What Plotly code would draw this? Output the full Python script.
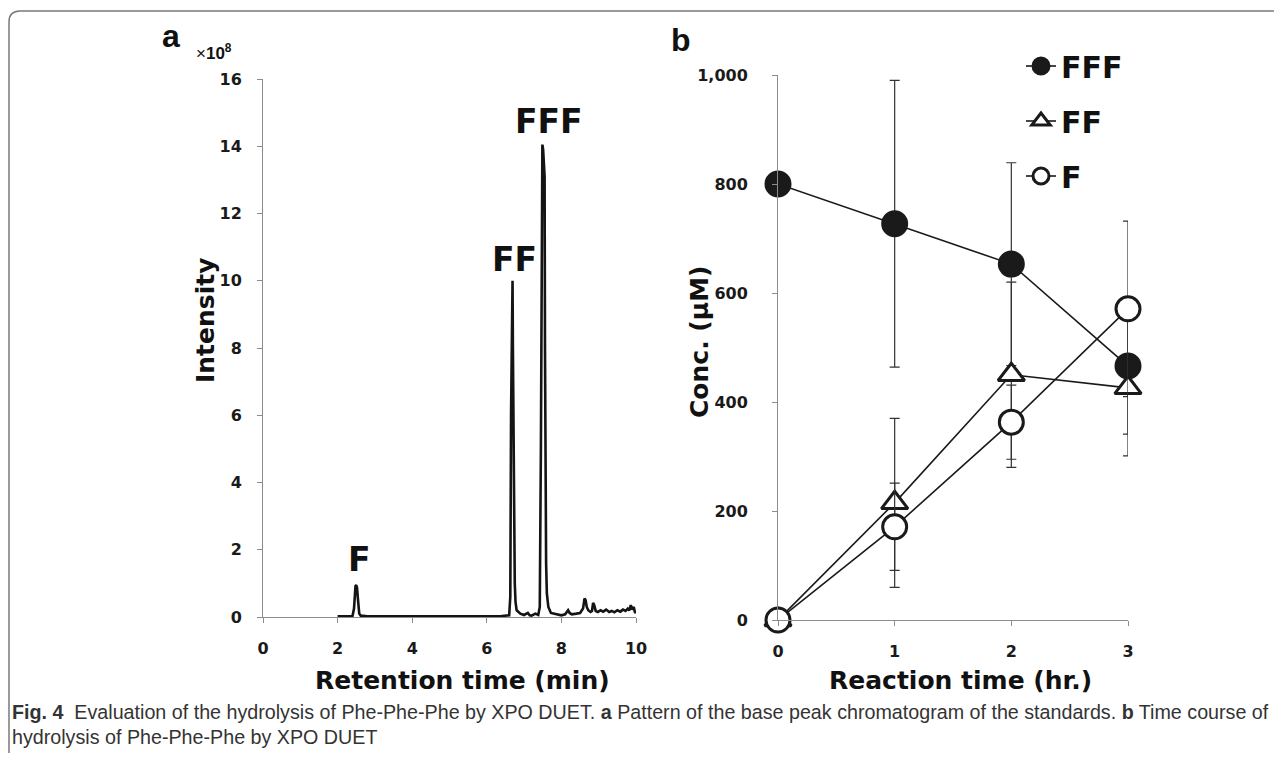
import plotly.graph_objects as go

# page is 1282x761 with an 8px body margin, so the figure itself is 1266x745
PAGE_W, PAGE_H = 1282, 761
OFF = 8
W, H = PAGE_W - 2 * OFF, PAGE_H - 2 * OFF

# ---------------- Panel a: base peak chromatogram ----------------
ret_time = [2.00, 2.20, 2.40, 2.44, 2.46, 2.48, 2.50, 2.52, 2.54, 2.56, 2.58, 2.62, 2.80,
            3.50, 4.50, 5.50, 6.40, 6.60, 6.63, 6.65, 6.67, 6.69, 6.70, 6.71, 6.72, 6.73,
            6.75, 6.77, 6.80, 6.90, 7.00, 7.10, 7.15, 7.20, 7.30, 7.38, 7.42, 7.45, 7.47,
            7.49, 7.51, 7.53, 7.55, 7.56, 7.57, 7.59, 7.61, 7.65, 7.72, 7.85, 8.00, 8.10,
            8.18, 8.22, 8.28, 8.40, 8.50, 8.58, 8.62, 8.65, 8.68, 8.72, 8.78, 8.82, 8.85,
            8.88, 8.92, 8.98, 9.05, 9.12, 9.20, 9.28, 9.35, 9.42, 9.50, 9.58, 9.65, 9.72,
            9.78, 9.82, 9.86, 9.90, 9.94, 9.97, 10.00]
intensity = [0.02, 0.02, 0.03, 0.25, 0.70, 0.92, 0.95, 0.88, 0.60, 0.30, 0.10, 0.04, 0.02,
             0.02, 0.02, 0.02, 0.03, 0.05, 0.60, 6.00, 9.95, 10.00, 8.00, 6.00, 3.80, 1.40,
             1.00, 0.45, 0.20, 0.10, 0.06, 0.12, 0.05, 0.04, 0.10, 0.06, 0.30, 5.00, 13.80,
             14.05, 13.90, 13.30, 13.10, 8.00, 4.60, 1.60, 0.70, 0.30, 0.12, 0.08, 0.05, 0.08,
             0.20, 0.12, 0.08, 0.10, 0.12, 0.25, 0.55, 0.50, 0.30, 0.20, 0.15, 0.18, 0.42,
             0.35, 0.18, 0.15, 0.20, 0.16, 0.22, 0.15, 0.18, 0.14, 0.20, 0.16, 0.22, 0.18,
             0.25, 0.20, 0.35, 0.22, 0.30, 0.15, 0.12]
peak_labels = ["F", "FF", "FFF"]
peak_x = [2.6, 6.73, 7.67]
peak_y = [1.70, 10.62, 14.75]

# ---------------- Panel b: time course ----------------
reaction_time = [0, 1, 2, 3]
conc_FFF = [800, 727, 653, 466]
err_FFF = [0, 263, 186, 125]
conc_FF = [0, 215, 450, 426]
err_FF = [0, 155, 170, 125]
conc_F = [0, 171, 363, 571]
err_F = [0, 80, 68, 161]


def px(x):
    """screen pixel -> paper x"""
    return (x - OFF) / W


def py(y):
    """screen pixel -> paper y"""
    return 1 - (y - OFF) / H


BOLD = "DejaVu Sans"
fig = go.Figure()

fig.add_trace(go.Scatter(
    x=ret_time, y=intensity, mode="lines",
    line=dict(color="#141414", width=2.6),
    xaxis="x", yaxis="y", showlegend=False, hoverinfo="skip"))

for name, vals, errs, sym, fill in [
        ("FFF", conc_FFF, err_FFF, "circle", "#1a1a1a"),
        ("FF", conc_FF, err_FF, "triangle-up", "white"),
        ("F", conc_F, err_F, "circle", "white")]:
    fig.add_trace(go.Scatter(
        x=reaction_time, y=vals, mode="lines+markers", name=name,
        legendgroup=name,
        line=dict(color="#1a1a1a", width=1.6),
        marker=dict(symbol=sym, size=24 if sym == "circle" else 23, color=fill,
                    line=dict(color="#1a1a1a", width=3)),
        error_y=dict(type="data", array=errs, visible=True, color="#333333",
                     thickness=1.2, width=5),
        cliponaxis=False,
        xaxis="x2", yaxis="y2"))

axis_common = dict(showgrid=False, zeroline=False, showline=True, linecolor="#8c8c8c",
                   linewidth=1, ticks="outside", ticklen=5, tickcolor="#8c8c8c",
                   automargin=False,
                   tickfont=dict(family=BOLD, size=16, color="#1a1a1a", weight="bold"))

fig.update_layout(
    width=W, height=H, margin=dict(l=0, r=0, t=0, b=0, pad=0, autoexpand=False),
    paper_bgcolor="white", plot_bgcolor="white",
    xaxis=dict(domain=[px(263), px(636)], range=[0, 10], tickvals=[0, 2, 4, 6, 8, 10],
               anchor="y", ticklabelstandoff=12, **axis_common),
    yaxis=dict(domain=[py(617), py(79)], range=[0, 16], tickvals=list(range(0, 17, 2)),
               anchor="x", ticklabelstandoff=12, **axis_common),
    xaxis2=dict(domain=[px(778), px(1128)], range=[0, 3], tickvals=[0, 1, 2, 3],
                anchor="y2", ticklabelstandoff=12, **axis_common),
    yaxis2=dict(domain=[py(620), py(75)], range=[0, 1000], tickvals=[0, 200, 400, 600, 800, 1000],
                tickformat=",d", anchor="x2", ticklabelstandoff=21, **axis_common),
    legend=dict(x=px(1021), y=py(40), xanchor="left", yanchor="top",
                bgcolor="rgba(0,0,0,0)", itemwidth=30, tracegroupgap=13,
                font=dict(family=BOLD, size=30, color="#111111", weight="bold")),
    showlegend=True,
)

annotations = []
for lab, xx, yy in zip(peak_labels, peak_x, peak_y):
    annotations.append(dict(x=xx, y=yy, xref="x", yref="y", text=lab, showarrow=False,
                            xanchor="center", yanchor="middle",
                            font=dict(family=BOLD, size=33, color="#111111", weight="bold")))

title_font = dict(family=BOLD, size=25, color="#111111", weight="bold")


def note(x, y, text, font, angle=0, xanchor="center"):
    return dict(x=px(x), y=py(y), xref="paper", yref="paper", text=text, textangle=angle,
                showarrow=False, xanchor=xanchor, yanchor="middle", font=font)


cap_font = dict(family="Liberation Sans", size=19.7, color="#333333")
annotations += [
    note(463, 680, "Retention time (min)", title_font),
    note(960, 680, "Reaction time (hr.)", title_font),
    note(205, 320, "Intensity", title_font, angle=-90),
    note(700, 342, "Conc. (μM)", title_font, angle=-90),
    note(171, 36, "a", dict(family="Liberation Sans", size=32, color="#111111", weight="bold")),
    note(681, 40, "b", dict(family="Liberation Sans", size=32, color="#111111", weight="bold")),
    note(214, 52, "×<b>10<sup>8</sup></b>", dict(family="Liberation Sans", size=17, color="#111111")),
    note(10, 712, "<b>Fig. 4</b>  Evaluation of the hydrolysis of Phe-Phe-Phe by XPO DUET. "
                  "<b>a</b> Pattern of the base peak chromatogram of the standards. "
                  "<b>b</b> Time course of", cap_font, xanchor="left"),
    note(10, 737, "hydrolysis of Phe-Phe-Phe by XPO DUET", cap_font, xanchor="left"),
]
fig.update_layout(annotations=annotations)

# rounded frame (top and left edges)
path = (f"M {px(9)},{py(758)} L {px(9)},{py(22)} Q {px(9)},{py(11)} {px(20)},{py(11)} "
        f"L {px(1282)},{py(11)}")
fig.add_shape(type="path", path=path, xref="paper", yref="paper",
              line=dict(color="#7a7a7a", width=1.5))

fig.write_html("out.html")
